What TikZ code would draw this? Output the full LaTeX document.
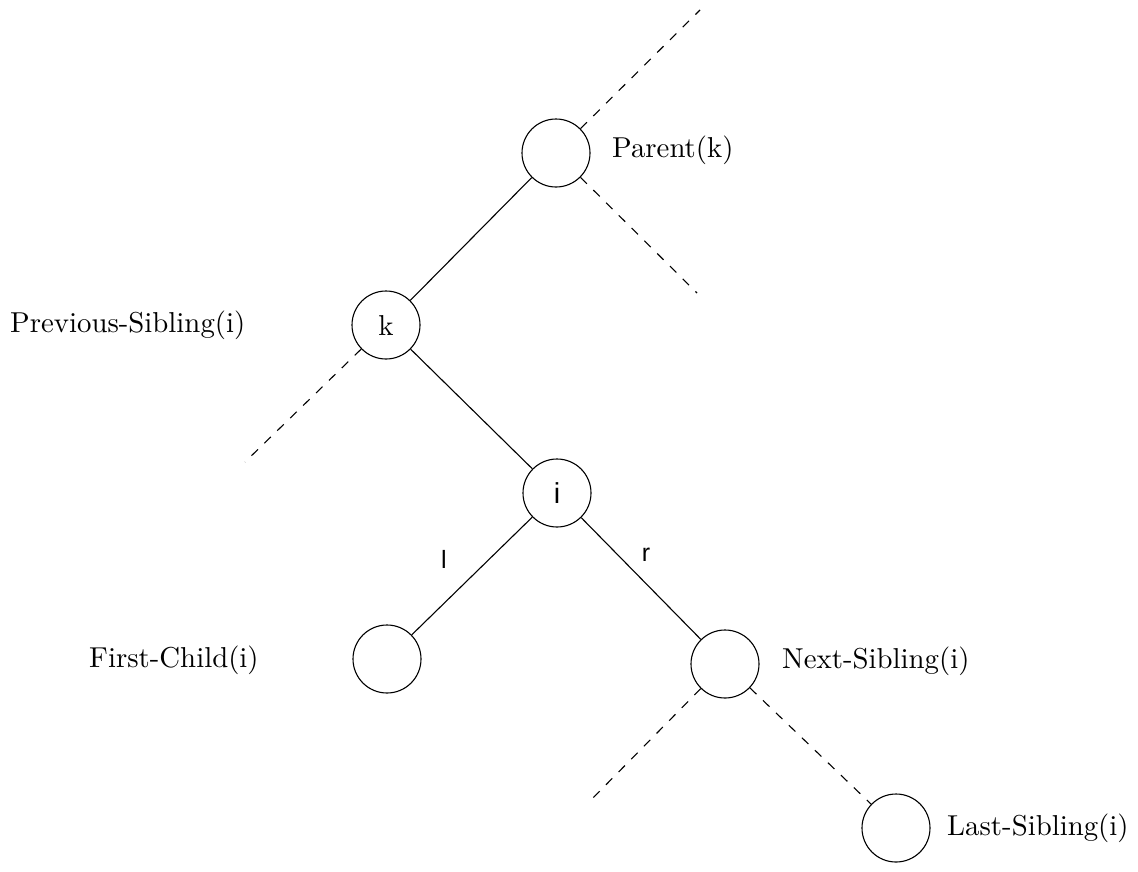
\documentclass[tikz,border=0pt]{standalone}
\usepackage{fontspec}
\newfontfamily\labelsans{Liberation Sans}
\newfontfamily\tagfont{lmroman10-regular.otf}
\begin{document}
\begin{tikzpicture}[x=1pt,y=-1pt,
  treenode/.style={draw,circle,minimum size=68pt,inner sep=0pt,line width=1.1pt,
    font=\tagfont\fontsize{28.8}{30}\selectfont},
  edge/.style={line width=1.1pt},
  dashedge/.style={line width=1.1pt,dash pattern=on 9pt off 9pt},
  tag/.style={anchor=west,inner sep=0pt,
    font=\tagfont\fontsize{28.8}{32}\selectfont},
  side/.style={inner sep=0pt,font=\labelsans\fontsize{25}{27}\selectfont}]
  \useasboundingbox (0,0) rectangle (1138,871);

  % tree nodes
  \node[treenode] (P) at (556,153) {};
  \node[treenode] (K) at (386,325) {k};
  \node[treenode] (I) at (557,493) {\labelsans i};
  \node[treenode] (F) at (387,659) {};
  \node[treenode] (N) at (725,664) {};
  \node[treenode] (L) at (896,828) {};

  % loose ends of the dashed branches
  \coordinate (pUR) at (700,10);
  \coordinate (pLR) at (697,293);
  \coordinate (kLL) at (245,462);
  \coordinate (nLL) at (588,803);

  % solid edges
  \draw[edge] (P) -- (K);
  \draw[edge] (K) -- (I);
  \draw[edge] (I) -- (F);
  \draw[edge] (I) -- (N);

  % dashed edges
  \draw[dashedge] (P) -- (pUR);
  \draw[dashedge] (P) -- (pLR);
  \draw[dashedge] (K) -- (kLL);
  \draw[dashedge] (N) -- (nLL);
  \draw[dashedge] (N) -- (L);

  % edge marks
  \node[side] (lmark) at (444,559) {l};
  \node[side] (rmark) at (646,555) {r};

  % node captions
  \node[tag] (tP) at (612,150) {Parent(k)};
  \node[tag] (tK) at (10,325) {Previous-Sibling(i)};
  \node[tag] (tF) at (89,660) {First-Child(i)};
  \node[tag] (tN) at (782,661) {Next-Sibling(i)};
  \node[tag] (tL) at (947,828) {Last-Sibling(i)};
\end{tikzpicture}
\end{document}
